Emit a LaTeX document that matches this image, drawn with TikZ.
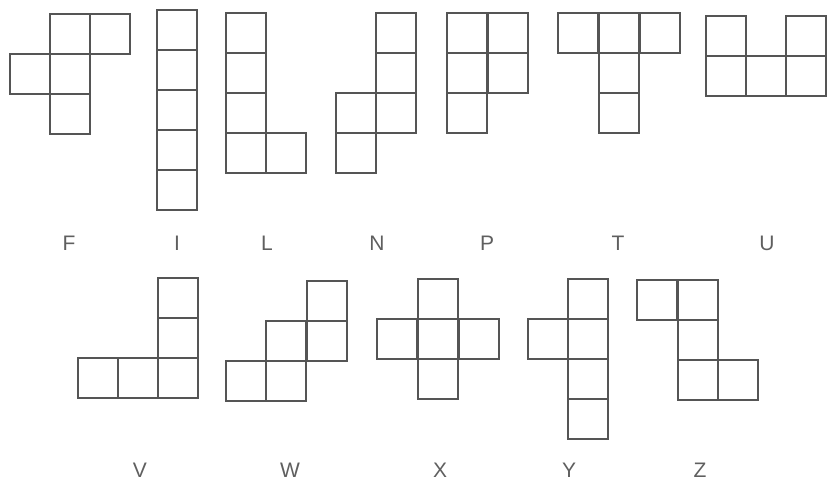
\documentclass[tikz,border=0pt]{standalone}
\usepackage{fontspec}
\setmainfont{Liberation Sans}
\usepackage{xcolor}
\usepackage{tikz}
\usetikzlibrary{positioning}
\definecolor{edgegray}{RGB}{85,85,85}
\definecolor{labelgray}{RGB}{95,95,95}

% one pentomino = five unit squares, given by their top-left corners
\newcommand{\pentopiece}[1]{%
  \foreach \cx/\cy in {#1} \draw[cell] (\cx,\cy) rectangle ++(40,40);}

\begin{document}
\begin{tikzpicture}[
  x=1pt, y=-1pt,
  cell/.style={draw=edgegray, line width=1.3pt, line join=miter},
  letter/.style={font=\fontsize{21}{24}\selectfont, text=labelgray, inner sep=0pt}
]
\useasboundingbox (0,0) rectangle (827,484);

% top row: F I L N P T U
\pentopiece{50/14, 90/14, 10/54, 50/54, 50/94}
\pentopiece{157/10, 157/50, 157/90, 157/130, 157/170}
\pentopiece{226/13, 226/53, 226/93, 226/133, 266/133}
\pentopiece{376/13, 376/53, 376/93, 336/93, 336/133}
\pentopiece{447/13, 488/13, 447/53, 488/53, 447/93}
\pentopiece{558/13, 599/13, 640/13, 599/53, 599/93}
\pentopiece{706/16, 786/16, 706/56, 746/56, 786/56}

% bottom row: V W X Y Z
\pentopiece{158/278, 158/318, 78/358, 118/358, 158/358}
\pentopiece{307/281, 266/321, 307/321, 226/361, 266/361}
\pentopiece{418/279, 377/319, 418/319, 459/319, 418/359}
\pentopiece{568/279, 528/319, 568/319, 568/359, 568/399}
\pentopiece{637/280, 678/280, 678/320, 678/360, 718/360}

% letters
\node[letter] (lblF) at (69,243) {F};
\node[letter] (lblI) at (177,243) {I};
\node[letter] (lblL) at (267,243) {L};
\node[letter] (lblN) at (377,243) {N};
\node[letter] (lblP) at (487,243) {P};
\node[letter] (lblT) at (618,243) {T};
\node[letter] (lblU) at (767,243) {U};
\node[letter] (lblV) at (140,470) {V};
\node[letter] (lblW) at (290,470) {W};
\node[letter] (lblX) at (440,470) {X};
\node[letter] (lblY) at (569,470) {Y};
\node[letter] (lblZ) at (700,470) {Z};

\end{tikzpicture}
\end{document}
